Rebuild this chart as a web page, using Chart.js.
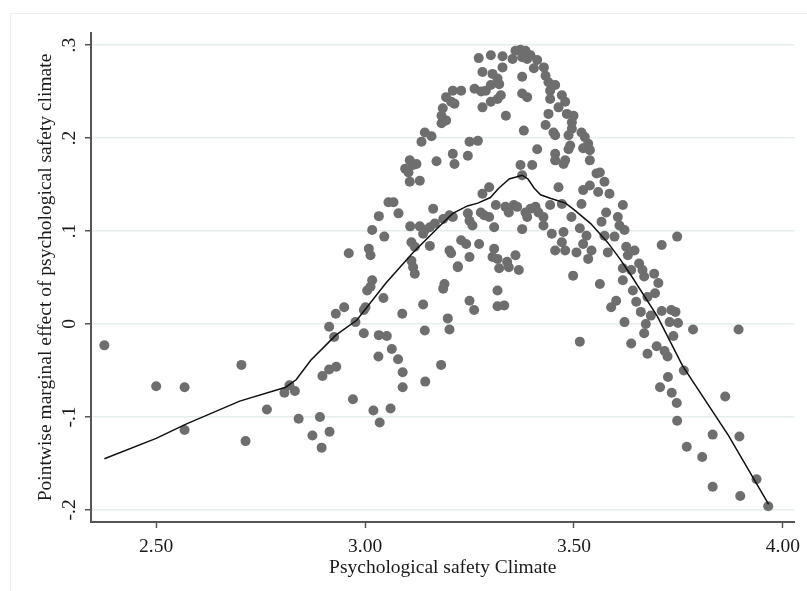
<!DOCTYPE html>
<html>
<head>
<meta charset="utf-8">
<title>Pointwise marginal effect of psychological safety climate</title>
<script src="https://cdn.jsdelivr.net/npm/chart.js@4.4.1/dist/chart.umd.min.js"></script>
<style>
  html, body { margin: 0; padding: 0; background: #fff; }
  #wrap { position: relative; width: 807px; height: 591px; }
  #frame { position: absolute; left: 10px; top: 13px; right: 0; bottom: 0; border-left: 1px solid #f0f0f0; border-top: 1px solid #f0f0f0; }
  #effectChart { position: absolute; left: 0; top: 0; }
</style>
</head>
<body>
<div id="wrap">
  <div id="frame"></div>
  <canvas id="effectChart" width="807" height="591"></canvas>
</div>
<script>
// axis ticks
var xTickValues=[ 2.5, 3.0, 3.5, 4.0 ];
var yTickValues=[ -0.2, -0.1, 0, 0.1, 0.2, 0.3 ];
var yTickLabels=[ "-.2", "-.1", "0", ".1", ".2", ".3" ];

// scatter: psychological safety climate (x) vs pointwise marginal effect (y)
var climateX=[
        2.376, 2.500, 2.568, 2.568, 2.704, 2.714, 2.765, 2.807, 2.819, 2.832,
        2.841, 2.874, 2.892, 2.896, 2.898, 2.915, 2.914, 2.931, 2.971, 3.020,
        3.032, 3.035, 3.061, 3.079, 3.090, 3.090, 3.144, 3.182, 3.676,
        3.056, 3.068, 3.033, 3.080, 3.163, 3.017, 3.046, 3.108, 3.131, 3.143,
        3.155, 3.167, 3.139, 3.187, 3.202, 3.210, 2.961, 3.009, 3.013, 3.111,
        3.119, 3.155, 3.202, 3.206, 3.222, 3.111, 3.115, 3.119, 3.017, 3.005,
        3.013, 3.190, 3.187, 3.044, 3.001, 2.997, 2.950, 2.930, 2.977, 2.914,
        2.926, 3.089, 3.139, 3.198, 3.202, 3.143, 2.997, 3.033, 3.052, 3.064,
        3.210, 3.230, 3.194, 3.214, 3.206, 3.186, 3.183, 3.194, 3.183, 3.143,
        3.159, 3.135, 3.210, 3.214, 3.171, 3.107, 3.123, 3.096, 3.104, 3.115,
        3.107, 3.131,
        3.272, 3.301, 3.329, 3.353, 3.360, 3.372, 3.384, 3.376, 3.388, 3.396,
        3.412, 3.404, 3.428, 3.432, 3.329, 3.281, 3.305, 3.317, 3.301, 3.321,
        3.262, 3.278, 3.289, 3.325, 3.317, 3.301, 3.281, 3.376, 3.376, 3.388,
        3.439, 3.455, 3.443, 3.443, 3.471, 3.479, 3.463, 3.337, 3.439, 3.483,
        3.499, 3.495, 3.495, 3.487, 3.380, 3.432, 3.451, 3.455, 3.518, 3.526,
        3.534, 3.522, 3.538, 3.250, 3.270, 3.412, 3.455, 3.455, 3.479, 3.475,
        3.487, 3.491, 3.538, 3.372, 3.400, 3.554, 3.562, 3.246, 3.376,
        3.246, 3.250, 3.257, 3.277, 3.285, 3.297, 3.309, 3.313, 3.336, 3.344,
        3.356, 3.364, 3.376, 3.384, 3.388, 3.396, 3.408, 3.415, 3.427, 3.427,
        3.443, 3.230, 3.242, 3.250, 3.273, 3.309, 3.305, 3.317, 3.321, 3.340,
        3.344, 3.360, 3.368, 3.317, 3.317, 3.333, 3.250, 3.261, 3.222, 3.447,
        3.455, 3.463, 3.471, 3.471, 3.475, 3.479, 3.494, 3.498, 3.506, 3.514,
        3.518, 3.522, 3.522, 3.530, 3.534, 3.538, 3.542, 3.558, 3.562, 3.566,
        3.573, 3.573, 3.577, 3.581, 3.585, 3.589, 3.597, 3.601, 3.605, 3.609,
        3.617, 3.617, 3.617, 3.621, 3.621, 3.625, 3.629, 3.637, 3.637, 3.641,
        3.645, 3.649, 3.656, 3.660, 3.664, 3.668, 3.672, 3.668, 3.676, 3.684,
        3.692, 3.514, 3.281, 3.297,
        3.894, 3.862, 3.832, 3.896, 3.770, 3.807, 3.832, 3.898, 3.937, 3.965,
        3.785, 3.763, 3.746, 3.747, 3.734, 3.725, 3.706, 3.724, 3.717, 3.698,
        3.738, 3.749, 3.729, 3.743, 3.733, 3.710, 3.694, 3.702, 3.710, 3.747
];
var effectY=[
        -0.023, -0.067, -0.068, -0.114, -0.044, -0.126, -0.092, -0.074, -0.066, -0.072,
        -0.102, -0.120, -0.100, -0.133, -0.056, -0.116, -0.049, -0.046, -0.081, -0.093,
        -0.035, -0.106, -0.091, -0.038, -0.052, -0.068, -0.062, -0.044, -0.032,
        0.131, 0.131, 0.116, 0.119, 0.124, 0.101, 0.094, 0.105, 0.105, 0.101,
        0.104, 0.108, 0.097, 0.113, 0.117, 0.115, 0.076, 0.081, 0.074, 0.088,
        0.083, 0.084, 0.079, 0.076, 0.062, 0.068, 0.061, 0.054, 0.047, 0.036,
        0.040, 0.043, 0.038, 0.028, 0.018, 0.015, 0.018, 0.011, 0.002, -0.003,
        -0.014, 0.011, 0.021, 0.006, -0.006, -0.007, -0.010, -0.012, -0.013, -0.027,
        0.251, 0.251, 0.244, 0.237, 0.239, 0.232, 0.224, 0.219, 0.216, 0.206,
        0.202, 0.196, 0.183, 0.172, 0.175, 0.176, 0.172, 0.167, 0.163, 0.171,
        0.153, 0.154,
        0.286, 0.289, 0.288, 0.285, 0.294, 0.295, 0.294, 0.287, 0.285, 0.289,
        0.284, 0.275, 0.276, 0.267, 0.276, 0.271, 0.269, 0.264, 0.257, 0.258,
        0.253, 0.250, 0.251, 0.246, 0.242, 0.239, 0.233, 0.266, 0.248, 0.244,
        0.260, 0.257, 0.251, 0.242, 0.246, 0.239, 0.233, 0.224, 0.226, 0.226,
        0.224, 0.217, 0.210, 0.203, 0.208, 0.214, 0.206, 0.203, 0.206, 0.201,
        0.194, 0.189, 0.187, 0.196, 0.197, 0.188, 0.183, 0.176, 0.176, 0.172,
        0.188, 0.192, 0.176, 0.171, 0.171, 0.162, 0.163, 0.181, 0.160,
        0.119, 0.111, 0.106, 0.120, 0.117, 0.115, 0.104, 0.128, 0.126, 0.120,
        0.128, 0.126, 0.102, 0.120, 0.115, 0.124, 0.126, 0.120, 0.115, 0.106,
        0.128, 0.090, 0.086, 0.072, 0.086, 0.081, 0.072, 0.070, 0.060, 0.067,
        0.061, 0.074, 0.058, 0.036, 0.019, 0.020, 0.025, 0.015, 0.061, 0.097,
        0.079, 0.147, 0.129, 0.088, 0.099, 0.079, 0.115, 0.052, 0.077, 0.103,
        0.129, 0.144, 0.086, 0.095, 0.070, 0.149, 0.079, 0.142, 0.043, 0.110,
        0.095, 0.153, 0.120, 0.077, 0.140, 0.018, 0.094, 0.025, 0.115, 0.106,
        0.128, 0.060, 0.047, 0.101, 0.002, 0.083, 0.074, 0.058, -0.021, 0.036,
        0.079, 0.024, 0.065, 0.013, 0.058, 0.051, 0.000, -0.010, 0.029, 0.009,
        0.054, -0.019, 0.140, 0.147,
        -0.006, -0.078, -0.119, -0.121, -0.132, -0.143, -0.175, -0.185, -0.167, -0.196,
        -0.006, -0.050, -0.085, -0.104, -0.074, -0.057, -0.068, -0.035, -0.029, -0.024,
        -0.013, 0.001, 0.002, 0.013, 0.015, 0.014, 0.033, 0.044, 0.085, 0.094
];

// smoothed fit line
var fitX=[ 2.376, 2.50, 2.57, 2.70, 2.81, 2.835, 2.87, 2.93, 2.98, 3.05, 3.115, 3.18, 3.21, 3.245, 3.27, 3.30, 3.32, 3.345, 3.376, 3.39, 3.405, 3.42, 3.445, 3.48, 3.50, 3.54, 3.58, 3.61, 3.64, 3.70, 3.76, 3.87, 3.966 ];
var fitY=[ -0.145, -0.123, -0.108, -0.083, -0.068, -0.060, -0.039, -0.012, 0.004, 0.044, 0.077, 0.106, 0.119, 0.127, 0.130, 0.136, 0.146, 0.156, 0.160, 0.156, 0.146, 0.139, 0.135, 0.130, 0.123, 0.108, 0.088, 0.070, 0.050, 0.008, -0.045, -0.120, -0.194 ];

var serif='"Liberation Serif", "Times New Roman", serif';
var fontSize=19.5;

// y tick labels are rotated like the original, drawn at the scale's own tick pixels
var yTickText={
        id: 'yTickText',
        afterDraw: function( chart )
        {
                var ctx=chart.ctx;
                var yScale=chart.scales.y;
                ctx.save();
                ctx.font=fontSize+'px '+serif;
                ctx.fillStyle='#1a1a1a';
                ctx.textAlign='center';
                ctx.textBaseline='middle';
                yTickValues.forEach( function( v, i )
                {
                        ctx.save();
                        ctx.translate( yScale.right-21, yScale.getPixelForValue( v ) );
                        ctx.rotate( -Math.PI/2 );
                        ctx.fillText( yTickLabels[ i ], 0, 0 );
                        ctx.restore();
                } );
                ctx.restore();
        }
};

var ctxE=document.getElementById( 'effectChart' ).getContext( '2d' );
var effectChart=new Chart( ctxE, {
        type: 'scatter',
        plugins: [ yTickText ],
        data: {
                datasets: [ {
                        label: 'Fit',
                        data: fitX.map( ( x, i ) => ( { x: x, y: fitY[ i ] } ) ),
                        showLine: true,
                        borderColor: '#111',
                        borderWidth: 1.5,
                        pointRadius: 0,
                        fill: false,
                        order: 0
                },
                {
                        label: 'Pointwise effect',
                        data: climateX.map( ( x, i ) => ( { x: x, y: effectY[ i ] } ) ),
                        backgroundColor: '#6e6e6e',
                        borderWidth: 0,
                        pointRadius: 5,
                        order: 1
                } ]
        },
        options: {
                responsive: false,
                animation: false,
                events: [],
                layout: {
                        padding: { top: 33, right: 5, left: 0, bottom: 0 }
                },
                plugins: {
                        legend: { display: false },
                        tooltip: { enabled: false }
                },
                scales: {
                        x: {
                                type: 'linear',
                                position: 'bottom',
                                min: 2.344,
                                max: 4.028,
                                afterBuildTicks: function( scale )
                                {
                                        scale.ticks=xTickValues.map( v => ( { value: v } ) );
                                },
                                afterFit: function( scale ) { scale.height=69; },
                                ticks: {
                                        callback: v => Number( v ).toFixed( 2 ),
                                        color: '#1a1a1a',
                                        font: { family: serif, size: fontSize },
                                        padding: 7,
                                        maxRotation: 0
                                },
                                grid: {
                                        drawOnChartArea: false,
                                        tickLength: 6,
                                        tickColor: '#555',
                                        tickWidth: 1.5
                                },
                                border: { color: '#555', width: 2 },
                                title: {
                                        display: true,
                                        text: 'Psychological safety Climate',
                                        color: '#1a1a1a',
                                        font: { family: serif, size: fontSize },
                                        padding: { top: 0, bottom: 11 }
                                }
                        },
                        y: {
                                type: 'linear',
                                min: -0.213,
                                max: 0.313,
                                afterBuildTicks: function( scale )
                                {
                                        scale.ticks=yTickValues.map( v => ( { value: v } ) );
                                },
                                afterFit: function( scale ) { scale.width=91; },
                                ticks: { display: false },
                                grid: {
                                        color: '#e6eded',
                                        lineWidth: 1.5,
                                        tickLength: 6,
                                        tickColor: '#555',
                                        tickWidth: 1.5
                                },
                                border: { color: '#555', width: 2 },
                                title: {
                                        display: true,
                                        text: 'Pointwise marginal effect of psychological safety climate',
                                        color: '#1a1a1a',
                                        font: { family: serif, size: fontSize },
                                        padding: { top: 34, bottom: 0 }
                                }
                        }
                }
        }
} );
</script>
</body>
</html>
